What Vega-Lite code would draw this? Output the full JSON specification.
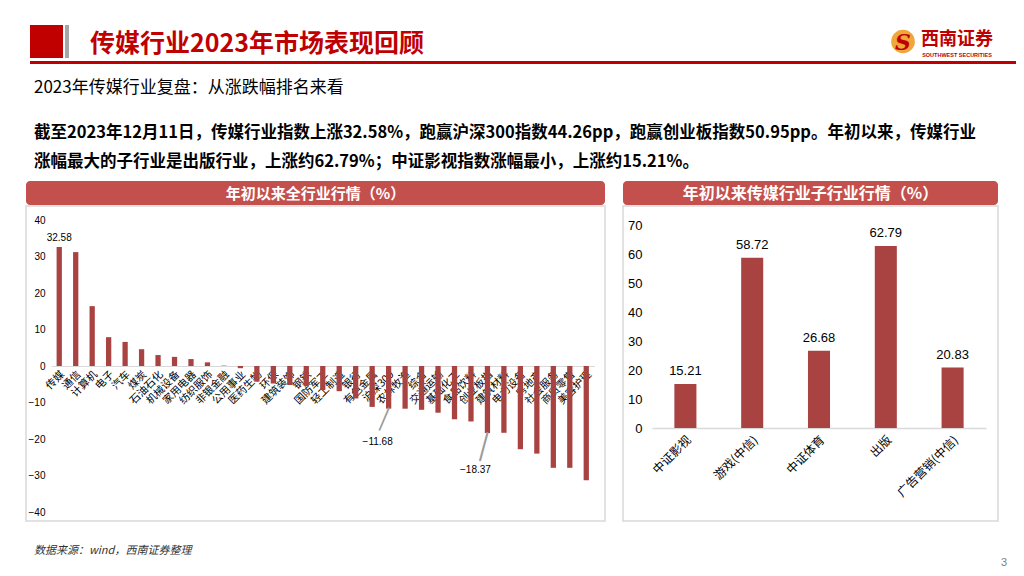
{
  "$schema": "https://vega.github.io/schema/vega-lite/v6.json",
  "padding": {"left": 25, "top": 25, "right": 0, "bottom": 0},
  "background": "white",
  "spacing": 0,
  "config": {
    "view": {"stroke": null},
    "concat": {"spacing": 0},
    "axis": {"grid": false, "ticks": false, "title": null, "labelOverlap": false},
    "font": "Noto Sans CJK SC"
  },
  "datasets": {
    "all": [
      {"name": "传媒", "value": 32.58},
      {"name": "通信", "value": 31.2},
      {"name": "计算机", "value": 16.4},
      {"name": "电子", "value": 7.9},
      {"name": "汽车", "value": 6.6},
      {"name": "煤炭", "value": 4.6},
      {"name": "石油石化", "value": 3.0},
      {"name": "机械设备", "value": 2.5},
      {"name": "家用电器", "value": 1.9},
      {"name": "纺织服饰", "value": 1.0},
      {"name": "非银金融", "value": 0.1},
      {"name": "公用事业", "value": -0.6},
      {"name": "医药生物", "value": -4.3},
      {"name": "环保", "value": -4.8},
      {"name": "建筑装饰", "value": -5.2},
      {"name": "钢铁", "value": -5.5},
      {"name": "国防军工", "value": -6.6},
      {"name": "轻工制造", "value": -6.9},
      {"name": "银行", "value": -8.9},
      {"name": "有色金属", "value": -11.2},
      {"name": "沪深300", "value": -11.68},
      {"name": "农林牧渔", "value": -11.7},
      {"name": "综合", "value": -12.0},
      {"name": "交通运输", "value": -12.8},
      {"name": "基础化工", "value": -14.6},
      {"name": "食品饮料", "value": -15.2},
      {"name": "创业板指", "value": -18.37},
      {"name": "建筑材料", "value": -18.3},
      {"name": "电力设备", "value": -22.8},
      {"name": "房地产", "value": -24.0},
      {"name": "社会服务", "value": -27.9},
      {"name": "商贸零售", "value": -27.9},
      {"name": "美容护理", "value": -31.3}
    ],
    "sub": [
      {"name": "中证影视", "value": 15.21},
      {"name": "游戏(中信)", "value": 58.72},
      {"name": "中证体育", "value": 26.68},
      {"name": "出版", "value": 62.79},
      {"name": "广告营销(中信)", "value": 20.83}
    ]
  },
  "vconcat": [
    {
      "spacing": 0,
      "hconcat": [
        {"width": 4, "height": 33, "data": {"values": []}, "mark": "point"},
        {"width": 33, "height": 33, "view": {"fill": "#C00000", "stroke": null}, "data": {"values": []}, "mark": "point"},
        {"width": 2, "height": 33, "data": {"values": []}, "mark": "point"},
        {"width": 4, "height": 33, "view": {"fill": "#A6A6A6", "stroke": null}, "data": {"values": []}, "mark": "point"},
        {"width": 376, "height": 33, "data": {"values": [{"t": "传媒行业2023年市场表现回顾"}]},
         "mark": {"type": "text", "font": "Noto Sans CJK SC", "fontSize": 25, "fontWeight": "bold", "color": "#C00000", "dy": 2},
         "encoding": {"text": {"field": "t"}}},
        {"width": 444, "height": 33, "data": {"values": []}, "mark": "point"},
        {"width": 28, "height": 33, "data": {"values": [{"t": "S"}]},
         "layer": [
           {"mark": {"type": "point", "shape": "circle", "size": 560, "filled": true, "color": "#EFA63A", "opacity": 1}, "encoding": {}},
           {"mark": {"type": "text", "font": "DejaVu Serif", "fontSize": 22, "fontWeight": "bold", "fontStyle": "italic", "color": "#C00000", "dy": 1}, "encoding": {"text": {"field": "t"}}}
         ]},
        {"width": 80, "height": 33, "data": {"values": [{"a": "西南证券", "b": "SOUTHWEST SECURITIES"}]},
         "layer": [
           {"mark": {"type": "text", "font": "Noto Sans CJK SC", "fontSize": 18, "fontWeight": "bold", "color": "#C00000", "dy": -2}, "encoding": {"text": {"field": "a"}}},
           {"mark": {"type": "text", "font": "Liberation Sans", "fontSize": 5.5, "fontWeight": "bold", "color": "#C00000", "dy": 13}, "encoding": {"text": {"field": "b"}}}
         ]}
      ]
    },
    {"width": 986, "height": 3, "data": {"values": []}, "mark": "point"},
    {
      "spacing": 0,
      "hconcat": [
        {"width": 4, "height": 3, "data": {"values": []}, "mark": "point"},
        {"width": 986, "height": 3, "view": {"fill": "#C00000", "stroke": null}, "data": {"values": []}, "mark": "point"}
      ]
    },
    {"width": 986, "height": 14.5, "data": {"values": []}, "mark": "point"},
    {
      "width": 986, "height": 9.5,
      "title": {
        "text": "2023年传媒行业复盘：从涨跌幅排名来看",
        "subtitle": ["截至2023年12月11日，传媒行业指数上涨32.58%，跑赢沪深300指数44.26pp，跑赢创业板指数50.95pp。年初以来，传媒行业", "涨幅最大的子行业是出版行业，上涨约62.79%；中证影视指数涨幅最小，上涨约15.21%。"],
        "anchor": "start", "frame": "group", "dx": 8, "offset": 0,
        "font": "Noto Sans CJK SC", "fontSize": 17, "fontWeight": "normal", "color": "#000000",
        "subtitleFont": "Noto Sans CJK SC", "subtitleFontSize": 16.5, "subtitleFontWeight": "bold", "subtitleColor": "#000000",
        "subtitlePadding": 27.5, "subtitleLineHeight": 29, "limit": 0
      },
      "data": {"values": []}, "mark": "point"
    },
    {
      "spacing": 0,
      "hconcat": [
        {
          "spacing": 0,
          "vconcat": [
            {"width": 579, "height": 24, "view": {"fill": "#C4504D", "stroke": null, "cornerRadius": 4},
             "data": {"values": [{"t": "年初以来全行业行情（%）"}]},
             "mark": {"type": "text", "font": "Noto Sans CJK SC", "fontSize": 15, "fontWeight": "bold", "color": "#FFFFFF", "dy": 1},
             "encoding": {"text": {"field": "t"}}},
            {
              "width": 579, "height": 315,
              "view": {"stroke": "#D9D9D9", "strokeWidth": 1.5},
              "data": {"name": "all"},
              "encoding": {
                "x": {"field": "name", "type": "nominal", "sort": null,
                      "scale": {"range": [25, 568.5], "paddingInner": 0.68, "paddingOuter": 0.34},
                      "axis": {"orient": "bottom", "offset": -155, "domain": true, "domainColor": "#D9D9D9", "domainWidth": 1,
                               "labelAngle": -45, "labelFont": "Noto Sans CJK SC", "labelFontSize": 10.5, "labelColor": "#000000", "labelPadding": 3, "labelLimit": 200}},
                "y": {"field": "value", "type": "quantitative",
                      "scale": {"domain": [-40, 40], "range": [306, 14], "nice": false, "zero": false},
                      "axis": {"orient": "left", "offset": -19, "values": [-40, -30, -20, -10, 0, 10, 20, 30, 40], "domain": false,
                               "labelFont": "Liberation Sans", "labelFontSize": 10, "labelColor": "#000000", "labelPadding": 0}}
              },
              "layer": [
                {"mark": {"type": "bar", "color": "#A84341"}},
                {"mark": {"type": "text", "font": "Liberation Sans", "fontSize": 10, "color": "#000000", "baseline": "bottom", "dy": -4},
                 "encoding": {"text": {"condition": {"test": "datum.name === '传媒'", "field": "value", "format": ".2f"}, "value": ""}}},
                {"mark": {"type": "text", "font": "Liberation Sans", "fontSize": 10, "color": "#000000", "baseline": "middle", "dy": 33, "dx": -11},
                 "encoding": {"text": {"condition": {"test": "datum.name === '沪深300'", "field": "value", "format": ".2f"}, "value": ""}}},
                {"mark": {"type": "text", "font": "Liberation Sans", "fontSize": 10, "color": "#000000", "baseline": "middle", "dy": 37, "dx": -12},
                 "encoding": {"text": {"condition": {"test": "datum.name === '创业板指'", "field": "value", "format": ".2f"}, "value": ""}}},
                {"mark": {"type": "text", "font": "DejaVu Sans", "fontSize": 21, "color": "#9A9A9A", "baseline": "middle", "angle": 23, "dy": 12.5},
                 "encoding": {"text": {"condition": {"test": "datum.name === '沪深300'", "value": "│"}, "value": ""}}},
                {"mark": {"type": "text", "font": "DejaVu Sans", "fontSize": 25, "color": "#9A9A9A", "baseline": "middle", "angle": 15, "dy": 14.6},
                 "encoding": {"text": {"condition": {"test": "datum.name === '创业板指'", "value": "│"}, "value": ""}}}
              ]
            }
          ]
        },
        {"width": 16, "height": 339, "data": {"values": []}, "mark": "point"},
        {
          "spacing": 0,
          "vconcat": [
            {"width": 375, "height": 24, "view": {"fill": "#C4504D", "stroke": null, "cornerRadius": 4},
             "data": {"values": [{"t": "年初以来传媒行业子行业行情（%）"}]},
             "mark": {"type": "text", "font": "Noto Sans CJK SC", "fontSize": 16, "fontWeight": "bold", "color": "#FFFFFF", "dy": 1},
             "encoding": {"text": {"field": "t"}}},
            {
              "width": 375, "height": 315,
              "view": {"stroke": "#D9D9D9", "strokeWidth": 1.5},
              "data": {"name": "sub"},
              "encoding": {
                "x": {"field": "name", "type": "nominal", "sort": null,
                      "scale": {"range": [29, 363], "paddingInner": 0.67, "paddingOuter": 0.335},
                      "axis": {"orient": "bottom", "offset": -93, "domain": true, "domainColor": "#D9D9D9", "domainWidth": 1.5,
                               "labelAngle": -45, "labelFont": "Noto Sans CJK SC", "labelFontSize": 12, "labelColor": "#000000", "labelPadding": 6, "labelLimit": 200}},
                "y": {"field": "value", "type": "quantitative",
                      "scale": {"domain": [0, 70], "range": [222, 19], "nice": false},
                      "axis": {"orient": "left", "offset": -19, "values": [0, 10, 20, 30, 40, 50, 60, 70], "domain": false,
                               "labelFont": "Liberation Sans", "labelFontSize": 13, "labelColor": "#000000", "labelPadding": 0}}
              },
              "layer": [
                {"mark": {"type": "bar", "color": "#A84341"}},
                {"mark": {"type": "text", "font": "Liberation Sans", "fontSize": 13, "color": "#000000", "baseline": "bottom", "dy": -6},
                 "encoding": {"text": {"field": "value", "format": ".2f"}}}
              ]
            }
          ]
        }
      ]
    },
    {"width": 990, "height": 21.5, "data": {"values": []}, "mark": "point"},
    {
      "spacing": 0,
      "hconcat": [
        {"width": 966, "height": 1,
         "title": {"text": "数据来源：wind，西南证券整理", "anchor": "start", "frame": "group", "dx": 8, "offset": 0,
                   "font": "Noto Sans CJK SC", "fontSize": 11, "fontStyle": "italic", "fontWeight": "normal", "color": "#333333"},
         "data": {"values": []}, "mark": "point"},
        {"width": 24, "height": 14, "data": {"values": [{"t": "3"}]},
         "mark": {"type": "text", "font": "Liberation Sans", "fontSize": 11, "color": "#7F7F7F"},
         "encoding": {"text": {"field": "t"}}}
      ]
    }
  ]
}
